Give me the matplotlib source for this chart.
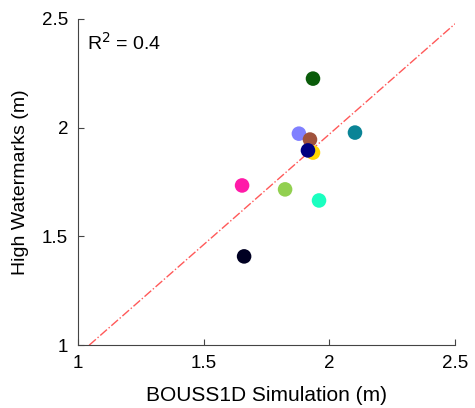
import matplotlib
matplotlib.use("Agg")
import matplotlib.pyplot as plt

plt.rcParams['font.family'] = ['Liberation Sans', 'DejaVu Sans']

# simulated vs observed high watermarks (m)
sim = [1.661, 1.653, 1.824, 1.959, 2.102, 1.879, 1.923, 1.935, 1.915, 1.935]
obs = [1.408, 1.734, 1.716, 1.665, 1.977, 1.972, 1.945, 1.885, 1.895, 2.225]
colors = ['#000022', '#ff1aa8', '#92d050', '#1affc0', '#0a8496',
          '#8080ff', '#a0523c', '#ffd700', '#000080', '#0a5c0a']

# dash-dot fit line
fit_x = [1.045, 2.5]
fit_y = [1.0, 2.477]

fig = plt.figure(figsize=(4.75, 4.08), dpi=100)
ax = fig.add_axes([0.164, 0.154, 0.794, 0.800])

ax.plot(fit_x, fit_y, color='#ff3030', linestyle='-.', linewidth=1.0, alpha=0.8)
ax.scatter(sim, obs, c=colors, s=110, edgecolors='none', zorder=3)

ax.set_xlim(1, 2.5)
ax.set_ylim(1, 2.5)
ax.set_xticks([1, 1.5, 2, 2.5])
ax.set_yticks([1, 1.5, 2, 2.5])
ax.set_xticklabels(['1', '1.5', '2', '2.5'])
ax.set_yticklabels(['1', '1.5', '2', '2.5'])
ax.tick_params(direction='in', labelsize=13.5, length=4, color='#444444', pad=7)
ax.spines['top'].set_visible(False)
ax.spines['right'].set_visible(False)
for s in ['left', 'bottom']:
    ax.spines[s].set_color('#444444')

ax.set_xlabel('BOUSS1D Simulation (m)', fontsize=15, labelpad=10)
ax.set_ylabel('High Watermarks (m)', fontsize=14, labelpad=9)
ax.text(0.025, 0.96, r'R$^2$ = 0.4', transform=ax.transAxes, fontsize=14,
        va='top', ha='left')

fig.savefig('out.png', dpi=100)
